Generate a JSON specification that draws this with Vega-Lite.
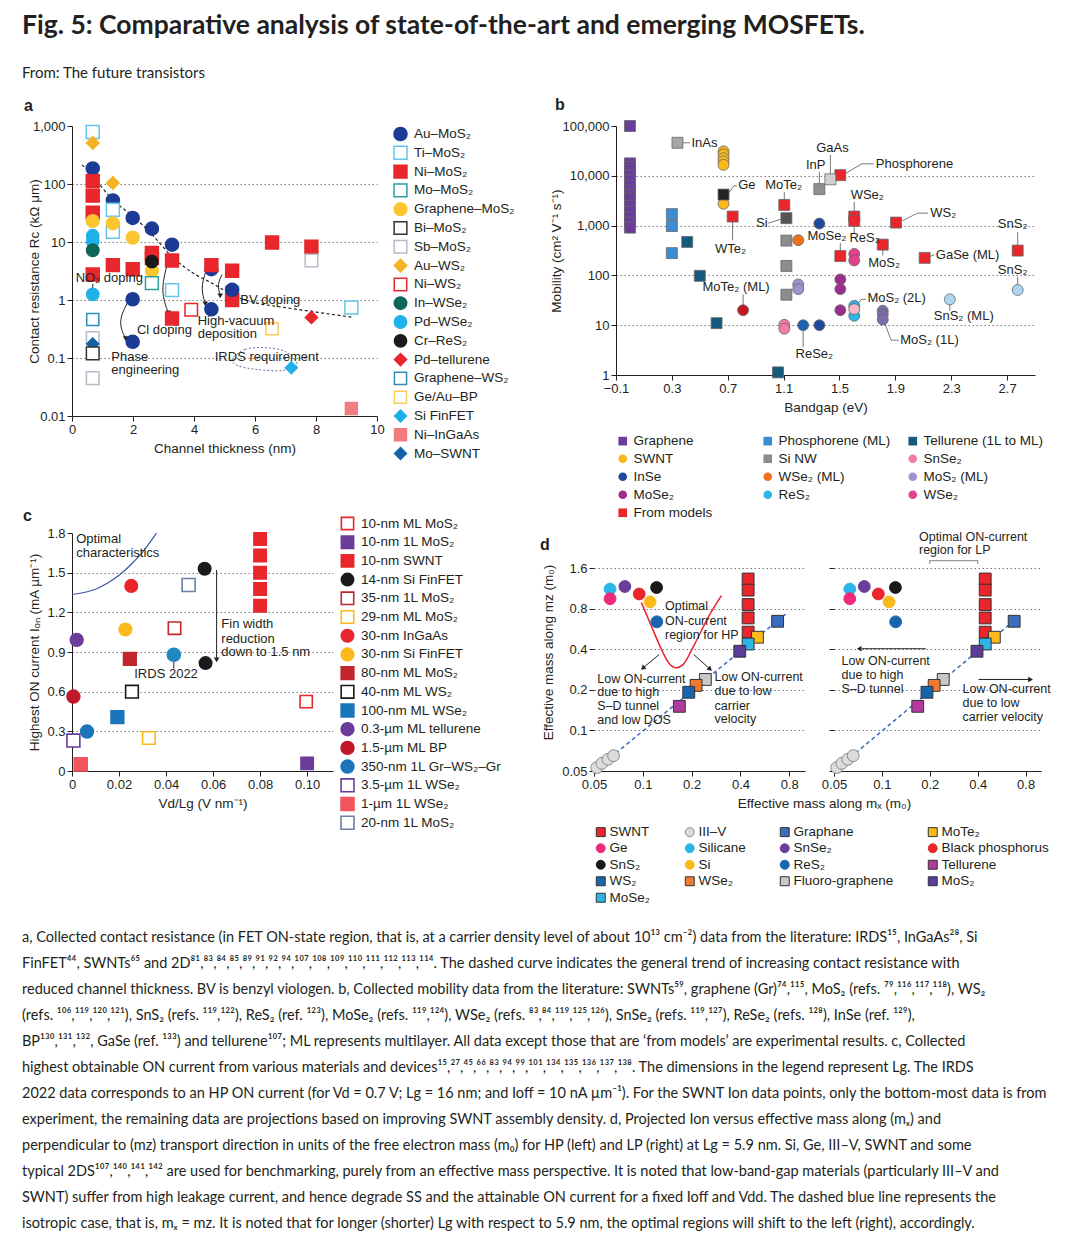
{
"$schema":"https://vega.github.io/schema/vega-lite/v6.json",
"background":"white",
"padding":{"left":22,"top":13,"right":4,"bottom":4},
"title":{"text":"Fig. 5: Comparative analysis of state-of-the-art and emerging MOSFETs.","subtitle":"From: The future transistors","anchor":"start","frame":"bounds","font":"Lato","fontSize":26.5,"fontWeight":"bold","color":"#231f20","subtitleFont":"Lato","subtitleFontSize":15,"subtitleColor":"#231f20","subtitlePadding":26,"offset":16},
"spacing":-12,
"resolve":{"scale":{"fill":"independent","stroke":"independent","shape":"independent","size":"independent"},"legend":{"fill":"independent","stroke":"independent","shape":"independent","size":"independent"}},
"datasets":{
"a_pts":[
{"t":0.68,"r":185,"m":"Au–MoS₂"},{"t":1.34,"r":52,"m":"Au–MoS₂"},{"t":1.99,"r":26,"m":"Au–MoS₂"},{"t":2.62,"r":17,"m":"Au–MoS₂"},{"t":3.28,"r":9.0,"m":"Au–MoS₂"},{"t":4.57,"r":3.4,"m":"Au–MoS₂"},{"t":1.99,"r":1.03,"m":"Au–MoS₂"},{"t":1.99,"r":0.19,"m":"Au–MoS₂"},{"t":4.57,"r":0.69,"m":"Au–MoS₂"},
{"t":0.68,"r":790,"m":"Ti–MoS₂"},{"t":1.34,"r":36,"m":"Ti–MoS₂"},{"t":1.34,"r":15,"m":"Ti–MoS₂"},{"t":3.28,"r":1.48,"m":"Ti–MoS₂"},{"t":5.25,"r":1.35,"m":"Ti–MoS₂"},{"t":9.16,"r":0.74,"m":"Ti–MoS₂"},
{"t":0.68,"r":510,"m":"Au–WS₂"},{"t":1.34,"r":104,"m":"Au–WS₂"},
{"t":0.68,"r":112,"m":"Ni–MoS₂"},{"t":0.68,"r":63,"m":"Ni–MoS₂"},{"t":0.68,"r":32,"m":"Ni–MoS₂"},{"t":0.68,"r":2.75,"m":"Ni–MoS₂"},{"t":1.34,"r":4.0,"m":"Ni–MoS₂"},{"t":1.99,"r":3.4,"m":"Ni–MoS₂"},{"t":2.62,"r":6.5,"m":"Ni–MoS₂"},{"t":2.62,"r":5.3,"m":"Ni–MoS₂"},{"t":3.28,"r":4.8,"m":"Ni–MoS₂"},{"t":3.28,"r":0.48,"m":"Ni–MoS₂"},{"t":4.57,"r":4.0,"m":"Ni–MoS₂"},{"t":5.25,"r":3.2,"m":"Ni–MoS₂"},{"t":5.25,"r":1.0,"m":"Ni–MoS₂"},{"t":6.56,"r":9.8,"m":"Ni–MoS₂"},{"t":7.85,"r":8.3,"m":"Ni–MoS₂"},
{"t":5.25,"r":1.5,"m":"Au–MoS₂"},
{"t":0.68,"r":23,"m":"Graphene–MoS₂"},{"t":1.34,"r":21,"m":"Graphene–MoS₂"},{"t":1.99,"r":11.9,"m":"Graphene–MoS₂"},{"t":2.62,"r":3.2,"m":"Graphene–MoS₂"},
{"t":0.68,"r":12.8,"m":"Pd–WSe₂"},{"t":0.68,"r":10.2,"m":"Pd–WSe₂"},{"t":0.68,"r":1.25,"m":"Pd–WSe₂"},
{"t":0.68,"r":7.2,"m":"In–WSe₂"},
{"t":2.62,"r":4.6,"m":"Cr–ReS₂"},
{"t":2.62,"r":1.95,"m":"Mo–MoS₂"},
{"t":0.68,"r":0.46,"m":"Graphene–WS₂"},
{"t":0.68,"r":0.22,"m":"Sb–MoS₂"},{"t":0.68,"r":0.045,"m":"Sb–MoS₂"},{"t":7.85,"r":4.8,"m":"Sb–MoS₂"},
{"t":0.68,"r":0.175,"m":"Mo–SWNT"},
{"t":0.68,"r":0.12,"m":"Bi–MoS₂"},
{"t":3.91,"r":0.68,"m":"Ni–WS₂"},
{"t":7.19,"r":0.068,"m":"Si FinFET"},
{"t":6.56,"r":0.32,"m":"Ge/Au–BP"},
{"t":7.85,"r":0.5,"m":"Pd–tellurene"},
{"t":9.16,"r":0.0135,"m":"Ni–InGaAs"}],
"a_trend":[{"t":0.33,"r":214},{"t":0.68,"r":140},{"t":1.0,"r":85},{"t":1.34,"r":53},{"t":2.0,"r":28},{"t":2.62,"r":13.5},{"t":3.28,"r":5.6},{"t":3.93,"r":3.0},{"t":4.59,"r":1.95},{"t":5.36,"r":1.15},{"t":6.0,"r":0.9},{"t":7.0,"r":0.74},{"t":8.0,"r":0.62},{"t":9.24,"r":0.5}],
"a_ell":[{"t":5.25,"r":0.095,"o":0},{"t":5.68,"r":0.141,"o":1},{"t":6.34,"r":0.151,"o":2},{"t":6.99,"r":0.129,"o":3},{"t":7.38,"r":0.078,"o":4},{"t":6.89,"r":0.061,"o":5},{"t":6.12,"r":0.063,"o":6},{"t":5.46,"r":0.073,"o":7}],
"a_arr":[
{"id":"ph","t":1.82,"r":0.9,"o":0},{"id":"ph","t":1.5,"r":0.42,"o":1},{"id":"ph","t":1.76,"r":0.215,"o":2},
{"id":"cl","t":3.12,"r":4.1,"o":0},{"id":"cl","t":2.9,"r":1.4,"o":1},{"id":"cl","t":3.16,"r":0.6,"o":2},
{"id":"hv","t":4.37,"r":2.9,"o":0},{"id":"hv","t":4.22,"r":1.6,"o":1},{"id":"hv","t":4.37,"r":0.86,"o":2},
{"id":"bv","t":4.92,"r":2.75,"o":0},{"id":"bv","t":4.76,"r":1.85,"o":1},{"id":"bv","t":4.86,"r":1.18,"o":2},
{"id":"no","t":0.68,"r":1.9,"o":0},{"id":"no","t":0.68,"r":1.55,"o":1}],
"a_head":[{"t":1.76,"r":0.215},{"t":3.16,"r":0.6},{"t":4.37,"r":0.86},{"t":4.86,"r":1.18}],
"a_txt":[{"t":0.12,"r":2.4,"label":"NO₂ doping"},{"t":1.29,"r":0.104,"label":"Phase"},{"t":1.29,"r":0.061,"label":"engineering"},{"t":2.13,"r":0.3,"label":"Cl doping"},{"t":4.12,"r":0.44,"label":"High-vacuum"},{"t":4.12,"r":0.26,"label":"deposition"},{"t":5.52,"r":0.99,"label":"BV doping"},{"t":4.68,"r":0.104,"label":"IRDS requirement"}],
"b_pts":[
{"g":0.0,"mu":100000,"m":"Graphene"},{"g":0.0,"mu":17800,"m":"Graphene"},{"g":0.0,"mu":15100,"m":"Graphene"},{"g":0.0,"mu":13100,"m":"Graphene"},{"g":0.0,"mu":10200,"m":"Graphene"},{"g":0.0,"mu":8100,"m":"Graphene"},{"g":0.0,"mu":6500,"m":"Graphene"},{"g":0.0,"mu":5100,"m":"Graphene"},{"g":0.0,"mu":4100,"m":"Graphene"},{"g":0.0,"mu":3500,"m":"Graphene"},{"g":0.0,"mu":2500,"m":"Graphene"},{"g":0.0,"mu":1860,"m":"Graphene"},{"g":0.0,"mu":1450,"m":"Graphene"},{"g":0.0,"mu":1150,"m":"Graphene"},{"g":0.0,"mu":910,"m":"Graphene"},
{"g":0.34,"mu":46000,"m":"InAs"},
{"g":0.67,"mu":31000,"m":"SWNT"},{"g":0.67,"mu":27000,"m":"SWNT"},{"g":0.67,"mu":22500,"m":"SWNT"},{"g":0.67,"mu":19500,"m":"SWNT"},{"g":0.67,"mu":16600,"m":"SWNT"},{"g":0.67,"mu":2750,"m":"SWNT"},
{"g":0.67,"mu":4200,"m":"Ge"},
{"g":0.3,"mu":1700,"m":"Phosphorene (ML)"},{"g":0.3,"mu":980,"m":"Phosphorene (ML)"},{"g":0.3,"mu":280,"m":"Phosphorene (ML)"},
{"g":0.41,"mu":470,"m":"Tellurene (1L to ML)"},{"g":0.5,"mu":98,"m":"Tellurene (1L to ML)"},{"g":0.62,"mu":11,"m":"Tellurene (1L to ML)"},{"g":1.06,"mu":1.13,"m":"Tellurene (1L to ML)"},
{"g":0.81,"mu":20,"m":"MoTe₂ (ML)"},
{"g":0.735,"mu":1520,"m":"From models"},{"g":1.105,"mu":2600,"m":"From models"},{"g":1.506,"mu":10300,"m":"From models"},{"g":1.506,"mu":245,"m":"From models"},{"g":1.606,"mu":1520,"m":"From models"},{"g":1.606,"mu":1250,"m":"From models"},{"g":1.81,"mu":415,"m":"From models"},{"g":1.905,"mu":1150,"m":"From models"},{"g":2.11,"mu":225,"m":"From models"},{"g":2.776,"mu":315,"m":"From models"},
{"g":1.12,"mu":1410,"m":"Si"},
{"g":1.12,"mu":500,"m":"Si NW"},{"g":1.12,"mu":155,"m":"Si NW"},{"g":1.12,"mu":41,"m":"Si NW"},
{"g":1.105,"mu":10.2,"m":"SnSe₂"},{"g":1.105,"mu":8.5,"m":"SnSe₂"},
{"g":1.205,"mu":510,"m":"WSe₂ (ML)"},
{"g":1.205,"mu":66,"m":"MoS₂ (ML)"},{"g":1.205,"mu":53,"m":"MoS₂ (ML)"},
{"g":1.24,"mu":10,"m":"ReSe₂"},
{"g":1.356,"mu":1100,"m":"InSe"},{"g":1.356,"mu":10,"m":"InSe"},
{"g":1.356,"mu":5400,"m":"InP"},
{"g":1.435,"mu":8500,"m":"GaAs"},
{"g":1.506,"mu":83,"m":"MoSe₂"},{"g":1.506,"mu":53,"m":"MoSe₂"},{"g":1.506,"mu":20,"m":"MoSe₂"},
{"g":1.606,"mu":270,"m":"WSe₂"},{"g":1.606,"mu":200,"m":"WSe₂"},
{"g":1.606,"mu":24.5,"m":"ReS₂"},{"g":1.606,"mu":15.5,"m":"ReS₂"},
{"g":1.606,"mu":21,"m":"MoS₂ (2L)"},
{"g":1.81,"mu":19.5,"m":"MoS₂ (1L)"},{"g":1.81,"mu":16.5,"m":"MoS₂ (1L)"},{"g":1.81,"mu":13,"m":"MoS₂ (1L)"},
{"g":2.29,"mu":33,"m":"SnS₂"},{"g":2.776,"mu":51,"m":"SnS₂"}],
"b_lines":[
{"id":"inas","g":0.375,"mu":46000,"o":0},{"id":"inas","g":0.43,"mu":46000,"o":1},
{"id":"ge","g":0.7,"mu":4300,"o":0},{"id":"ge","g":0.745,"mu":6300,"o":1},{"id":"ge","g":0.765,"mu":6300,"o":2},
{"id":"mote","g":1.105,"mu":4700,"o":0},{"id":"mote","g":1.105,"mu":3000,"o":1},
{"id":"si","g":0.99,"mu":1120,"o":0},{"id":"si","g":1.08,"mu":1340,"o":1},
{"id":"wte","g":0.735,"mu":1260,"o":0},{"id":"wte","g":0.735,"mu":510,"o":1},
{"id":"inp","g":1.356,"mu":12000,"o":0},{"id":"inp","g":1.356,"mu":6900,"o":1},
{"id":"gaas","g":1.435,"mu":26500,"o":0},{"id":"gaas","g":1.435,"mu":10200,"o":1},
{"id":"phos","g":1.54,"mu":11000,"o":0},{"id":"phos","g":1.66,"mu":17400,"o":1},{"id":"phos","g":1.745,"mu":17400,"o":2},
{"id":"wse","g":1.606,"mu":3000,"o":0},{"id":"wse","g":1.606,"mu":1860,"o":1},
{"id":"ws","g":1.95,"mu":1250,"o":0},{"id":"ws","g":2.06,"mu":1780,"o":1},{"id":"ws","g":2.135,"mu":1780,"o":2},
{"id":"sns1","g":2.776,"mu":740,"o":0},{"id":"sns1","g":2.776,"mu":385,"o":1},
{"id":"gase","g":2.14,"mu":235,"o":0},{"id":"gase","g":2.18,"mu":260,"o":1},
{"id":"mose","g":1.506,"mu":450,"o":0},{"id":"mose","g":1.506,"mu":315,"o":1},
{"id":"res","g":1.606,"mu":980,"o":0},{"id":"res","g":1.606,"mu":690,"o":1},
{"id":"mos","g":1.81,"mu":330,"o":0},{"id":"mos","g":1.81,"mu":250,"o":1},
{"id":"sns2","g":2.776,"mu":94,"o":0},{"id":"sns2","g":2.776,"mu":63,"o":1},
{"id":"mos2l","g":1.625,"mu":25,"o":0},{"id":"mos2l","g":1.655,"mu":33,"o":1},{"id":"mos2l","g":1.69,"mu":33,"o":2},
{"id":"snsml","g":2.29,"mu":27,"o":0},{"id":"snsml","g":2.29,"mu":19.5,"o":1},
{"id":"mos1l","g":1.82,"mu":12,"o":0},{"id":"mos1l","g":1.87,"mu":5.0,"o":1},{"id":"mos1l","g":1.925,"mu":5.0,"o":2},
{"id":"moteml","g":0.81,"mu":41.5,"o":0},{"id":"moteml","g":0.81,"mu":24.8,"o":1},
{"id":"rese","g":1.24,"mu":7.6,"o":0},{"id":"rese","g":1.24,"mu":3.6,"o":1}],
"b_tc":[{"g":1.1,"mu":6600,"label":"MoTe₂"},{"g":1.33,"mu":16600,"label":"InP"},{"g":1.45,"mu":36000,"label":"GaAs"},{"g":0.72,"mu":340,"label":"WTe₂"},{"g":1.41,"mu":620,"label":"MoSe₂"},{"g":1.68,"mu":575,"label":"ReS₂"},{"g":1.82,"mu":176,"label":"MoS₂"},{"g":2.74,"mu":1100,"label":"SnS₂"},{"g":2.74,"mu":126,"label":"SnS₂"},{"g":2.39,"mu":15,"label":"SnS₂ (ML)"},{"g":0.76,"mu":59,"label":"MoTe₂ (ML)"},{"g":1.32,"mu":2.6,"label":"ReSe₂"}],
"b_tl":[{"g":0.44,"mu":46000,"label":"InAs"},{"g":0.775,"mu":6600,"label":"Ge"},{"g":1.76,"mu":17400,"label":"Phosphorene"},{"g":1.58,"mu":4100,"label":"WSe₂"},{"g":2.15,"mu":1780,"label":"WS₂"},{"g":2.19,"mu":260,"label":"GaSe (ML)"},{"g":1.7,"mu":35,"label":"MoS₂ (2L)"},{"g":1.935,"mu":5.0,"label":"MoS₂ (1L)"}],
"b_tr":[{"g":0.986,"mu":1120,"label":"Si"}],
"c_pts":[
{"v":0.0996,"ion":0.525,"m":"10-nm ML MoS₂"},{"v":0.1,"ion":0.058,"m":"10-nm 1L MoS₂"},
{"v":0.08,"ion":1.755,"m":"10-nm SWNT"},{"v":0.08,"ion":1.63,"m":"10-nm SWNT"},{"v":0.08,"ion":1.5,"m":"10-nm SWNT"},{"v":0.08,"ion":1.376,"m":"10-nm SWNT"},{"v":0.08,"ion":1.25,"m":"10-nm SWNT"},
{"v":0.0564,"ion":1.53,"m":"14-nm Si FinFET"},{"v":0.0568,"ion":0.816,"m":"14-nm Si FinFET"},
{"v":0.0436,"ion":1.08,"m":"35-nm 1L MoS₂"},
{"v":0.0327,"ion":0.25,"m":"29-nm ML MoS₂"},
{"v":0.0252,"ion":1.4,"m":"30-nm InGaAs"},
{"v":0.0227,"ion":1.07,"m":"30-nm Si FinFET"},
{"v":0.0246,"ion":0.848,"m":"80-nm ML MoS₂"},
{"v":0.0255,"ion":0.6,"m":"40-nm ML WS₂"},
{"v":0.0193,"ion":0.407,"m":"100-nm ML WSe₂"},
{"v":0.002,"ion":0.992,"m":"0.3-µm ML tellurene"},
{"v":0.0006,"ion":0.563,"m":"1.5-µm ML BP"},
{"v":0.0064,"ion":0.298,"m":"350-nm 1L Gr–WS₂–Gr"},
{"v":0.0006,"ion":0.23,"m":"3.5-µm 1L WSe₂"},
{"v":0.0037,"ion":0.05,"m":"1-µm 1L WSe₂"},
{"v":0.0496,"ion":1.407,"m":"20-nm 1L MoS₂"},
{"v":0.0433,"ion":0.879,"m":"IRDS 2022"}],
"c_curve":[{"v":0,"ion":1.335},{"v":0.005,"ion":1.35},{"v":0.01,"ion":1.375},{"v":0.015,"ion":1.42},{"v":0.02,"ion":1.48},{"v":0.025,"ion":1.56},{"v":0.03,"ion":1.655},{"v":0.034,"ion":1.75},{"v":0.0375,"ion":1.84}],
"c_lines":[{"id":"fin","v":0.0615,"ion":1.52,"o":0},{"id":"fin","v":0.0615,"ion":0.85,"o":1},{"id":"irds","v":0.0433,"ion":0.845,"o":0},{"id":"irds","v":0.0433,"ion":0.775,"o":1}],
"c_head":[{"v":0.0615,"ion":0.84}],
"c_tl":[{"v":0.0018,"ion":1.757,"label":"Optimal"},{"v":0.0018,"ion":1.65,"label":"characteristics"},{"v":0.0635,"ion":1.11,"label":"Fin width"},{"v":0.0635,"ion":1.0,"label":"reduction"},{"v":0.0635,"ion":0.9,"label":"down to 1.5 nm"}],
"c_tc":[{"v":0.04,"ion":0.732,"label":"IRDS 2022"}],
"d_pts":[
{"mx":0.052,"mz":0.053,"m":"III–V"},{"mx":0.056,"mz":0.057,"m":"III–V"},{"mx":0.061,"mz":0.061,"m":"III–V"},{"mx":0.066,"mz":0.065,"m":"III–V"},
{"mx":0.0628,"mz":1.12,"m":"Silicane"},{"mx":0.0628,"mz":0.95,"m":"Ge"},{"mx":0.0775,"mz":1.17,"m":"SnSe₂"},{"mx":0.095,"mz":1.03,"m":"Black phosphorus"},{"mx":0.111,"mz":0.9,"m":"Si"},{"mx":0.1216,"mz":1.15,"m":"SnS₂"},{"mx":0.122,"mz":0.64,"m":"ReS₂"},
{"mx":0.446,"mz":1.33,"m":"SWNT"},{"mx":0.446,"mz":1.1,"m":"SWNT"},{"mx":0.446,"mz":0.86,"m":"SWNT"},{"mx":0.446,"mz":0.684,"m":"SWNT"},{"mx":0.446,"mz":0.536,"m":"SWNT"},
{"mx":0.678,"mz":0.646,"m":"Graphane"},{"mx":0.509,"mz":0.492,"m":"MoTe₂"},{"mx":0.446,"mz":0.438,"m":"MoSe₂"},{"mx":0.396,"mz":0.387,"m":"MoS₂"},{"mx":0.243,"mz":0.239,"m":"Fluoro-graphene"},{"mx":0.213,"mz":0.216,"m":"WSe₂"},{"mx":0.192,"mz":0.192,"m":"WS₂"},{"mx":0.168,"mz":0.151,"m":"Tellurene"}],
"d_diag":[{"mx":0.05,"mz":0.05},{"mx":0.76,"mz":0.73}],
"dl_curve":[{"mx":0.098,"mz":0.89},{"mx":0.112,"mz":0.61},{"mx":0.129,"mz":0.41},{"mx":0.146,"mz":0.312},{"mx":0.16,"mz":0.291},{"mx":0.177,"mz":0.308},{"mx":0.208,"mz":0.434},{"mx":0.252,"mz":0.684},{"mx":0.305,"mz":1.0}],
"dl_arr":[{"id":"l1","mx":0.126,"mz":0.366,"o":0},{"id":"l1","mx":0.101,"mz":0.293,"o":1},{"id":"l2","mx":0.206,"mz":0.366,"o":0},{"id":"l2","mx":0.258,"mz":0.287,"o":1}],
"dl_h1":[{"mx":0.1,"mz":0.29}],
"dl_h2":[{"mx":0.26,"mz":0.285}],
"dl_txt":[{"mx":0.137,"mz":0.834,"label":"Optimal"},{"mx":0.137,"mz":0.653,"label":"ON-current"},{"mx":0.137,"mz":0.514,"label":"region for HP"},{"mx":0.0524,"mz":0.241,"label":"Low ON-current"},{"mx":0.0524,"mz":0.192,"label":"due to high"},{"mx":0.0524,"mz":0.151,"label":"S–D tunnel"},{"mx":0.0524,"mz":0.119,"label":"and low DOS"},{"mx":0.277,"mz":0.248,"label":"Low ON-current"},{"mx":0.277,"mz":0.197,"label":"due to low"},{"mx":0.277,"mz":0.153,"label":"carrier"},{"mx":0.277,"mz":0.121,"label":"velocity"}],
"dr_red":[{"mx":0.2},{"mx":0.4}],
"dr_br":[{"mx":0.2,"mz":1.72,"o":0},{"mx":0.2,"mz":1.82,"o":1},{"mx":0.4,"mz":1.82,"o":2},{"mx":0.4,"mz":1.72,"o":3}],
"dr_arr":[{"id":"r1","mx":0.189,"mz":0.404,"o":0},{"id":"r1","mx":0.075,"mz":0.404,"o":1},{"id":"r2","mx":0.405,"mz":0.239,"o":0},{"id":"r2","mx":0.84,"mz":0.239,"o":1}],
"dr_hl":[{"mx":0.072,"mz":0.404}],
"dr_hr":[{"mx":0.86,"mz":0.239}],
"dr_txt":[{"mx":0.171,"mz":2.74,"label":"Optimal ON-current"},{"mx":0.171,"mz":2.19,"label":"region for LP"},{"mx":0.0558,"mz":0.327,"label":"Low ON-current"},{"mx":0.0558,"mz":0.257,"label":"due to high"},{"mx":0.0558,"mz":0.204,"label":"S–D tunnel"},{"mx":0.321,"mz":0.204,"label":"Low ON-current"},{"mx":0.321,"mz":0.161,"label":"due to low"},{"mx":0.321,"mz":0.126,"label":"carrier velocity"}]
},
"vconcat":[
{"hconcat":[
 {"width":305,"height":290,
  "title":{"text":"a","anchor":"start","frame":"group","dx":-48,"offset":6,"fontSize":16,"fontWeight":"bold"},
  "encoding":{
   "x":{"field":"t","type":"quantitative","scale":{"domain":[0,10],"nice":false,"zero":false},"axis":{"values":[0,2,4,6,8,10],"title":"Channel thickness (nm)","titlePadding":5}},
   "y":{"field":"r","type":"quantitative","scale":{"type":"log","domain":[0.01,1000],"nice":false},"axis":{"values":[0.01,0.1,1,10,100,1000],"format":",~g","title":"Contact resistance Rc (kΩ μm)","grid":true,"gridOpacity":{"condition":{"test":"datum.value > 500 || datum.value < 0.02","value":0},"value":1},"minExtent":28,"maxExtent":28,"titlePadding":3}}},
  "layer":[
   {"data":{"name":"a_trend"},"mark":{"type":"line","color":"#231f20","strokeWidth":1.2,"strokeDash":[3,2.5],"interpolate":"monotone"}},
   {"data":{"name":"a_ell"},"mark":{"type":"line","color":"#6070b0","strokeWidth":1,"strokeDash":[2,2],"interpolate":"cardinal-closed"},"encoding":{"order":{"field":"o"}}},
   {"data":{"name":"a_arr"},"mark":{"type":"line","color":"#231f20","strokeWidth":1,"interpolate":"basis"},"encoding":{"detail":{"field":"id"},"order":{"field":"o"}}},
   {"data":{"name":"a_head"},"mark":{"type":"point","shape":"triangle-down","filled":true,"size":30,"color":"#231f20","opacity":1}},
   {"data":{"name":"a_pts"},"mark":{"type":"point","filled":true,"opacity":1,"strokeWidth":1.5},
    "encoding":{
     "fill":{"field":"m","type":"nominal","scale":{"domain":["Au–MoS₂","Ti–MoS₂","Ni–MoS₂","Mo–MoS₂","Graphene–MoS₂","Bi–MoS₂","Sb–MoS₂","Au–WS₂","Ni–WS₂","In–WSe₂","Pd–WSe₂","Cr–ReS₂","Pd–tellurene","Graphene–WS₂","Ge/Au–BP","Si FinFET","Ni–InGaAs","Mo–SWNT"],"range":["#1b3b95","#ffffff","#e8262b","#ffffff","#fdc52e","#ffffff","#ffffff","#f5b324","#ffffff","#0d6656","#1fb1e7","#1a1a1a","#e8262b","#ffffff","#ffffff","#1fb1e7","#f27b80","#1561aa"]},"legend":{"title":null,"orient":"right","offset":16,"rowPadding":2.8,"clipHeight":16,"labelOffset":6,"symbolStrokeWidth":1.5}},
     "stroke":{"field":"m","type":"nominal","scale":{"domain":["Au–MoS₂","Ti–MoS₂","Ni–MoS₂","Mo–MoS₂","Graphene–MoS₂","Bi–MoS₂","Sb–MoS₂","Au–WS₂","Ni–WS₂","In–WSe₂","Pd–WSe₂","Cr–ReS₂","Pd–tellurene","Graphene–WS₂","Ge/Au–BP","Si FinFET","Ni–InGaAs","Mo–SWNT"],"range":["#1b3b95","#62c6ea","#e8262b","#2e9e9a","#fdc52e","#333333","#b4bccb","#f5b324","#e8262b","#0d6656","#1fb1e7","#1a1a1a","#e8262b","#2d8db3","#f8cf5e","#1fb1e7","#f27b80","#1561aa"]},"legend":{"title":null,"orient":"right","offset":16,"rowPadding":2.8,"clipHeight":16,"labelOffset":6,"symbolStrokeWidth":1.5}},
     "shape":{"field":"m","type":"nominal","scale":{"domain":["Au–MoS₂","Ti–MoS₂","Ni–MoS₂","Mo–MoS₂","Graphene–MoS₂","Bi–MoS₂","Sb–MoS₂","Au–WS₂","Ni–WS₂","In–WSe₂","Pd–WSe₂","Cr–ReS₂","Pd–tellurene","Graphene–WS₂","Ge/Au–BP","Si FinFET","Ni–InGaAs","Mo–SWNT"],"range":["circle","square","square","square","circle","square","square","diamond","square","circle","circle","circle","diamond","square","square","diamond","square","diamond"]},"legend":{"title":null,"orient":"right","offset":16,"rowPadding":2.8,"clipHeight":16,"labelOffset":6,"symbolStrokeWidth":1.5}},
     "size":{"field":"m","type":"nominal","scale":{"domain":["Au–MoS₂","Ti–MoS₂","Ni–MoS₂","Mo–MoS₂","Graphene–MoS₂","Bi–MoS₂","Sb–MoS₂","Au–WS₂","Ni–WS₂","In–WSe₂","Pd–WSe₂","Cr–ReS₂","Pd–tellurene","Graphene–WS₂","Ge/Au–BP","Si FinFET","Ni–InGaAs","Mo–SWNT"],"range":[170,140,160,140,170,140,140,130,50,170,170,170,130,140,140,130,160,130]},"legend":{"title":null,"orient":"right","offset":16,"rowPadding":2.8,"clipHeight":16,"labelOffset":6,"symbolStrokeWidth":1.5}}}},
   {"data":{"name":"a_txt"},"mark":{"type":"text","align":"left","baseline":"middle","fontSize":13},"encoding":{"text":{"field":"label"}}}
  ]},
 {"width":419,"height":249,
  "title":{"text":"b","anchor":"start","frame":"group","dx":-61,"offset":6,"fontSize":16,"fontWeight":"bold"},
  "encoding":{
   "x":{"field":"g","type":"quantitative","scale":{"domain":[-0.1,2.9],"nice":false,"zero":false},"axis":{"values":[-0.1,0.3,0.7,1.1,1.5,1.9,2.3,2.7],"format":".1f","title":"Bandgap (eV)","titlePadding":5}},
   "y":{"field":"mu","type":"quantitative","scale":{"type":"log","domain":[1,100000],"nice":false},"axis":{"values":[1,10,100,1000,10000,100000],"format":",~g","title":"Mobility (cm² V⁻¹ s⁻¹)","grid":true,"gridOpacity":{"condition":{"test":"datum.value < 2 || datum.value > 50000","value":0},"value":1},"minExtent":50,"maxExtent":50,"titlePadding":3}}},
  "layer":[
   {"data":{"name":"b_lines"},"mark":{"type":"line","color":"#555555","strokeWidth":0.8},"encoding":{"detail":{"field":"id"},"order":{"field":"o"}}},
   {"data":{"name":"b_pts"},"mark":{"type":"point","filled":true,"opacity":1,"size":120,"stroke":"#666666","strokeWidth":0.8},
    "encoding":{
     "fill":{"field":"m","type":"nominal","scale":{"domain":["Graphene","Phosphorene (ML)","Tellurene (1L to ML)","SWNT","Si NW","SnSe₂","InSe","WSe₂ (ML)","MoS₂ (ML)","MoSe₂","ReS₂","WSe₂","From models","InAs","Ge","Si","InP","GaAs","MoTe₂ (ML)","ReSe₂","MoS₂ (2L)","MoS₂ (1L)","SnS₂"],"range":["#6a3d9a","#3b8ed5","#155a7c","#fbb91c","#8c8c8c","#f27ca8","#1e4a9b","#f07020","#a091cc","#9b2d8e","#2bb5e8","#e2418d","#e8262b","#a6a6a6","#222222","#555555","#8f8f8f","#d0d0d0","#c3161f","#1a63b3","#f7b9c6","#7d6cab","#acd5f1"]},"legend":{"title":null,"orient":"bottom","direction":"horizontal","columns":3,"gridAlign":"all","columnPadding":7,"rowPadding":3,"symbolSize":75,"offset":20,"symbolStrokeColor":"#666666","symbolStrokeWidth":0.8,"labelOffset":4,"values":["Graphene","Phosphorene (ML)","Tellurene (1L to ML)","SWNT","Si NW","SnSe₂","InSe","WSe₂ (ML)","MoS₂ (ML)","MoSe₂","ReS₂","WSe₂","From models"]}},
     "shape":{"field":"m","type":"nominal","scale":{"domain":["Graphene","Phosphorene (ML)","Tellurene (1L to ML)","SWNT","Si NW","SnSe₂","InSe","WSe₂ (ML)","MoS₂ (ML)","MoSe₂","ReS₂","WSe₂","From models","InAs","Ge","Si","InP","GaAs","MoTe₂ (ML)","ReSe₂","MoS₂ (2L)","MoS₂ (1L)","SnS₂"],"range":["square","square","square","circle","square","circle","circle","circle","circle","circle","circle","circle","square","square","square","square","square","square","circle","circle","circle","circle","circle"]},"legend":{"title":null,"orient":"bottom","direction":"horizontal","columns":3,"gridAlign":"all","columnPadding":7,"rowPadding":3,"symbolSize":75,"offset":20,"symbolStrokeColor":"#666666","symbolStrokeWidth":0.8,"labelOffset":4,"values":["Graphene","Phosphorene (ML)","Tellurene (1L to ML)","SWNT","Si NW","SnSe₂","InSe","WSe₂ (ML)","MoS₂ (ML)","MoSe₂","ReS₂","WSe₂","From models"]}}}},
   {"data":{"name":"b_tc"},"mark":{"type":"text","align":"center","baseline":"middle","fontSize":13},"encoding":{"text":{"field":"label"}}},
   {"data":{"name":"b_tl"},"mark":{"type":"text","align":"left","baseline":"middle","fontSize":13},"encoding":{"text":{"field":"label"}}},
   {"data":{"name":"b_tr"},"mark":{"type":"text","align":"right","baseline":"middle","fontSize":13},"encoding":{"text":{"field":"label"}}}
  ]}
 ],
 "spacing":34,
 "resolve":{"scale":{"fill":"independent","stroke":"independent","shape":"independent","size":"independent"},"legend":{"fill":"independent","stroke":"independent","shape":"independent","size":"independent"}}},
{"title":{"text":[
"a, Collected contact resistance (in FET ON-state region, that is, at a carrier density level of about 10¹³ cm⁻²) data from the literature: IRDS¹⁵, InGaAs²⁸, Si",
"FinFET⁴⁴, SWNTs⁶⁵ and 2D⁸¹,⁸³,⁸⁴,⁸⁵,⁸⁹,⁹¹,⁹²,⁹⁴,¹⁰⁷,¹⁰⁸,¹⁰⁹,¹¹⁰,¹¹¹,¹¹²,¹¹³,¹¹⁴. The dashed curve indicates the general trend of increasing contact resistance with",
"reduced channel thickness. BV is benzyl viologen. b, Collected mobility data from the literature: SWNTs⁵⁹, graphene (Gr)⁷⁴,¹¹⁵, MoS₂ (refs. ⁷⁹,¹¹⁶,¹¹⁷,¹¹⁸), WS₂",
"(refs. ¹⁰⁶,¹¹⁹,¹²⁰,¹²¹), SnS₂ (refs. ¹¹⁹,¹²²), ReS₂ (ref. ¹²³), MoSe₂ (refs. ¹¹⁹,¹²⁴), WSe₂ (refs. ⁸³,⁸⁴,¹¹⁹,¹²⁵,¹²⁶), SnSe₂ (refs. ¹¹⁹,¹²⁷), ReSe₂ (refs. ¹²⁸), InSe (ref. ¹²⁹),",
"BP¹³⁰,¹³¹,¹³², GaSe (ref. ¹³³) and tellurene¹⁰⁷; ML represents multilayer. All data except those that are ‘from models’ are experimental results. c, Collected",
"highest obtainable ON current from various materials and devices¹⁵,²⁷,⁴⁵,⁶⁶,⁸³,⁹⁴,⁹⁹,¹⁰¹,¹³⁴,¹³⁵,¹³⁶,¹³⁷,¹³⁸. The dimensions in the legend represent Lg. The IRDS",
"2022 data corresponds to an HP ON current (for Vd = 0.7 V; Lg = 16 nm; and Ioff = 10 nA µm⁻¹). For the SWNT Ion data points, only the bottom-most data is from",
"experiment, the remaining data are projections based on improving SWNT assembly density. d, Projected Ion versus effective mass along (mₓ) and",
"perpendicular to (mz) transport direction in units of the free electron mass (m₀) for HP (left) and LP (right) at Lg = 5.9 nm. Si, Ge, III–V, SWNT and some",
"typical 2DS¹⁰⁷,¹⁴⁰,¹⁴¹,¹⁴² are used for benchmarking, purely from an effective mass perspective. It is noted that low-band-gap materials (particularly III–V and",
"SWNT) suffer from high leakage current, and hence degrade SS and the attainable ON current for a fixed Ioff and Vdd. The dashed blue line represents the",
"isotropic case, that is, mₓ = mz. It is noted that for longer (shorter) Lg with respect to 5.9 nm, the optimal regions will shift to the left (right), accordingly."],
 "orient":"bottom","anchor":"start","frame":"bounds","font":"Lato","fontSize":14.5,"fontWeight":"normal","color":"#231f20","lineHeight":26,"offset":26,"dx":-1,"align":"left"},
 "hconcat":[
 {"width":261,"height":238,
  "title":{"text":"c","anchor":"start","frame":"group","dx":-49,"dy":13,"fontSize":16,"fontWeight":"bold"},
  "encoding":{
   "x":{"field":"v","type":"quantitative","scale":{"domain":[0,0.111],"nice":false,"zero":false},"axis":{"values":[0,0.02,0.04,0.06,0.08,0.1],"labelExpr":"datum.value == 0 ? '0' : format(datum.value, '.2f')","title":"Vd/Lg (V nm⁻¹)","titlePadding":5}},
   "y":{"field":"ion","type":"quantitative","scale":{"domain":[0,1.8],"nice":false},"axis":{"values":[0,0.3,0.6,0.9,1.2,1.5,1.8],"labelExpr":"datum.value == 0 ? '0' : format(datum.value, '.1f')","title":"Highest ON current Iₒₙ (mA µm⁻¹)","grid":true,"gridOpacity":{"condition":{"test":"datum.value < 0.01 || datum.value > 1.75","value":0},"value":1},"minExtent":28,"maxExtent":28,"titlePadding":3}}},
  "layer":[
   {"data":{"name":"c_curve"},"mark":{"type":"line","color":"#3a55a4","strokeWidth":1.2,"interpolate":"monotone","clip":true}},
   {"data":{"name":"c_lines"},"mark":{"type":"line","color":"#231f20","strokeWidth":1},"encoding":{"detail":{"field":"id"},"order":{"field":"o"}}},
   {"data":{"name":"c_head"},"mark":{"type":"point","shape":"triangle-down","filled":true,"size":30,"color":"#231f20","opacity":1}},
   {"data":{"name":"c_pts"},"mark":{"type":"point","filled":true,"opacity":1,"strokeWidth":1.6},
    "encoding":{
     "fill":{"field":"m","type":"nominal","scale":{"domain":["10-nm ML MoS₂","10-nm 1L MoS₂","10-nm SWNT","14-nm Si FinFET","35-nm 1L MoS₂","29-nm ML MoS₂","30-nm InGaAs","30-nm Si FinFET","80-nm ML MoS₂","40-nm ML WS₂","100-nm ML WSe₂","0.3-µm ML tellurene","1.5-µm ML BP","350-nm 1L Gr–WS₂–Gr","3.5-µm 1L WSe₂","1-µm 1L WSe₂","20-nm 1L MoS₂","IRDS 2022"],"range":["#ffffff","#6a3d9a","#e8262b","#1a1a1a","#ffffff","#ffffff","#e8262b","#fbb91c","#c1272d","#ffffff","#1b75bb","#6a3d9a","#c0182b","#1b75bb","#ffffff","#f0565b","#ffffff","#2189c1"]},"legend":{"title":null,"orient":"none","legendX":268,"legendY":-18,"rowPadding":1.7,"clipHeight":17,"labelOffset":6,"symbolStrokeWidth":1.6,"values":["10-nm ML MoS₂","10-nm 1L MoS₂","10-nm SWNT","14-nm Si FinFET","35-nm 1L MoS₂","29-nm ML MoS₂","30-nm InGaAs","30-nm Si FinFET","80-nm ML MoS₂","40-nm ML WS₂","100-nm ML WSe₂","0.3-µm ML tellurene","1.5-µm ML BP","350-nm 1L Gr–WS₂–Gr","3.5-µm 1L WSe₂","1-µm 1L WSe₂","20-nm 1L MoS₂"]}},
     "stroke":{"field":"m","type":"nominal","scale":{"domain":["10-nm ML MoS₂","10-nm 1L MoS₂","10-nm SWNT","14-nm Si FinFET","35-nm 1L MoS₂","29-nm ML MoS₂","30-nm InGaAs","30-nm Si FinFET","80-nm ML MoS₂","40-nm ML WS₂","100-nm ML WSe₂","0.3-µm ML tellurene","1.5-µm ML BP","350-nm 1L Gr–WS₂–Gr","3.5-µm 1L WSe₂","1-µm 1L WSe₂","20-nm 1L MoS₂","IRDS 2022"],"range":["#e8262b","#6a3d9a","#e8262b","#1a1a1a","#c1272d","#fbb91c","#e8262b","#fbb91c","#c1272d","#1a1a1a","#1b75bb","#6a3d9a","#c0182b","#1b75bb","#6a3d9a","#f0565b","#6a7fa3","#2189c1"]},"legend":{"title":null,"orient":"none","legendX":268,"legendY":-18,"rowPadding":1.7,"clipHeight":17,"labelOffset":6,"symbolStrokeWidth":1.6,"values":["10-nm ML MoS₂","10-nm 1L MoS₂","10-nm SWNT","14-nm Si FinFET","35-nm 1L MoS₂","29-nm ML MoS₂","30-nm InGaAs","30-nm Si FinFET","80-nm ML MoS₂","40-nm ML WS₂","100-nm ML WSe₂","0.3-µm ML tellurene","1.5-µm ML BP","350-nm 1L Gr–WS₂–Gr","3.5-µm 1L WSe₂","1-µm 1L WSe₂","20-nm 1L MoS₂"]}},
     "shape":{"field":"m","type":"nominal","scale":{"domain":["10-nm ML MoS₂","10-nm 1L MoS₂","10-nm SWNT","14-nm Si FinFET","35-nm 1L MoS₂","29-nm ML MoS₂","30-nm InGaAs","30-nm Si FinFET","80-nm ML MoS₂","40-nm ML WS₂","100-nm ML WSe₂","0.3-µm ML tellurene","1.5-µm ML BP","350-nm 1L Gr–WS₂–Gr","3.5-µm 1L WSe₂","1-µm 1L WSe₂","20-nm 1L MoS₂","IRDS 2022"],"range":["square","square","square","circle","square","square","circle","circle","square","square","square","circle","circle","circle","square","square","square","circle"]},"legend":{"title":null,"orient":"none","legendX":268,"legendY":-18,"rowPadding":1.7,"clipHeight":17,"labelOffset":6,"symbolStrokeWidth":1.6,"values":["10-nm ML MoS₂","10-nm 1L MoS₂","10-nm SWNT","14-nm Si FinFET","35-nm 1L MoS₂","29-nm ML MoS₂","30-nm InGaAs","30-nm Si FinFET","80-nm ML MoS₂","40-nm ML WS₂","100-nm ML WSe₂","0.3-µm ML tellurene","1.5-µm ML BP","350-nm 1L Gr–WS₂–Gr","3.5-µm 1L WSe₂","1-µm 1L WSe₂","20-nm 1L MoS₂"]}},
     "size":{"field":"m","type":"nominal","scale":{"domain":["10-nm ML MoS₂","10-nm 1L MoS₂","10-nm SWNT","14-nm Si FinFET","35-nm 1L MoS₂","29-nm ML MoS₂","30-nm InGaAs","30-nm Si FinFET","80-nm ML MoS₂","40-nm ML WS₂","100-nm ML WSe₂","0.3-µm ML tellurene","1.5-µm ML BP","350-nm 1L Gr–WS₂–Gr","3.5-µm 1L WSe₂","1-µm 1L WSe₂","20-nm 1L MoS₂","IRDS 2022"],"range":[150,170,55,150,130,140,250,250,140,120,140,250,250,250,60,150,80,150]},"legend":{"title":null,"orient":"none","legendX":268,"legendY":-18,"rowPadding":1.7,"clipHeight":17,"labelOffset":6,"symbolStrokeWidth":1.6,"values":["10-nm ML MoS₂","10-nm 1L MoS₂","10-nm SWNT","14-nm Si FinFET","35-nm 1L MoS₂","29-nm ML MoS₂","30-nm InGaAs","30-nm Si FinFET","80-nm ML MoS₂","40-nm ML WS₂","100-nm ML WSe₂","0.3-µm ML tellurene","1.5-µm ML BP","350-nm 1L Gr–WS₂–Gr","3.5-µm 1L WSe₂","1-µm 1L WSe₂","20-nm 1L MoS₂"]}}}},
   {"data":{"name":"c_tl"},"mark":{"type":"text","align":"left","baseline":"middle","fontSize":13},"encoding":{"text":{"field":"label"}}},
   {"data":{"name":"c_tc"},"mark":{"type":"text","align":"center","baseline":"middle","fontSize":13},"encoding":{"text":{"field":"label"}}}
  ]},
 {"hconcat":[
  {"width":211,"height":238,
   "title":{"text":"d","anchor":"start","frame":"group","dx":-54,"dy":24,"fontSize":16,"fontWeight":"bold"},
   "encoding":{
    "x":{"field":"mx","type":"quantitative","scale":{"type":"log","domain":[0.05,1],"nice":false},"axis":{"values":[0.05,0.1,0.2,0.4,0.8],"format":"~g","title":"Effective mass along mₓ (m₀)","titleX":230,"titlePadding":5}},
    "y":{"field":"mz","type":"quantitative","scale":{"type":"log","domain":[0.05,2.92],"nice":false},"axis":{"values":[0.05,0.1,0.2,0.4,0.8,1.6],"format":"~g","title":"Effective mass along mz (m₀)","domain":false,"grid":true,"gridOpacity":{"condition":{"test":"datum.value < 0.07","value":0},"value":1},"minExtent":36,"maxExtent":36,"titlePadding":3}}},
   "layer":[
    {"data":{"values":[{}]},"mark":{"type":"rule","color":"#231f20","strokeWidth":1},"encoding":{"x":{"datum":0.05},"y":{"datum":0.05},"y2":{"datum":2.05}}},
    {"data":{"name":"d_diag"},"mark":{"type":"line","color":"#3a6dbf","strokeWidth":1.5,"strokeDash":[4,3]}},
    {"data":{"name":"dl_curve"},"mark":{"type":"line","color":"#e8262b","strokeWidth":1.5,"interpolate":"monotone"}},
    {"data":{"name":"dl_arr"},"mark":{"type":"line","color":"#231f20","strokeWidth":1},"encoding":{"detail":{"field":"id"},"order":{"field":"o"}}},
    {"data":{"name":"dl_h1"},"mark":{"type":"point","shape":"triangle-down","angle":50,"filled":true,"size":30,"color":"#231f20","opacity":1}},
    {"data":{"name":"dl_h2"},"mark":{"type":"point","shape":"triangle-down","angle":-50,"filled":true,"size":30,"color":"#231f20","opacity":1}},
    {"data":{"name":"d_pts"},"mark":{"type":"point","filled":true,"opacity":1,"size":140,"strokeWidth":1},
     "encoding":{
      "fill":{"field":"m","type":"nominal","scale":{"domain":["SWNT","III–V","Graphane","MoTe₂","Ge","Silicane","SnSe₂","Black phosphorus","SnS₂","Si","ReS₂","Tellurene","WS₂","WSe₂","Fluoro-graphene","MoS₂","MoSe₂"],"range":["#e8262b","#dcdcdc","#3a6dbf","#fbb91c","#ee2b7b","#2bb5e8","#6a3d9a","#e8262b","#1a1a1a","#fbb91c","#1766ad","#b23a9e","#1766ad","#f07b30","#c8c8c8","#5d3b9b","#2bb5e8"]},"legend":{"title":null,"orient":"bottom","direction":"horizontal","columns":4,"gridAlign":"each","columnPadding":32,"rowPadding":1.5,"symbolSize":80,"offset":15,"labelOffset":2,"symbolStrokeWidth":1}},
      "stroke":{"field":"m","type":"nominal","scale":{"domain":["SWNT","III–V","Graphane","MoTe₂","Ge","Silicane","SnSe₂","Black phosphorus","SnS₂","Si","ReS₂","Tellurene","WS₂","WSe₂","Fluoro-graphene","MoS₂","MoSe₂"],"range":["#333333","#8a8a8a","#333333","#333333","#ee2b7b","#2bb5e8","#6a3d9a","#e8262b","#1a1a1a","#fbb91c","#1766ad","#333333","#333333","#333333","#333333","#333333","#333333"]},"legend":{"title":null,"orient":"bottom","direction":"horizontal","columns":4,"gridAlign":"each","columnPadding":32,"rowPadding":1.5,"symbolSize":80,"offset":15,"labelOffset":2,"symbolStrokeWidth":1}},
      "shape":{"field":"m","type":"nominal","scale":{"domain":["SWNT","III–V","Graphane","MoTe₂","Ge","Silicane","SnSe₂","Black phosphorus","SnS₂","Si","ReS₂","Tellurene","WS₂","WSe₂","Fluoro-graphene","MoS₂","MoSe₂"],"range":["square","circle","square","square","circle","circle","circle","circle","circle","circle","circle","square","square","square","square","square","square"]},"legend":{"title":null,"orient":"bottom","direction":"horizontal","columns":4,"gridAlign":"each","columnPadding":32,"rowPadding":1.5,"symbolSize":80,"offset":15,"labelOffset":2,"symbolStrokeWidth":1}}}},
    {"data":{"name":"dl_txt"},"mark":{"type":"text","align":"left","baseline":"middle","fontSize":12.5},"encoding":{"text":{"field":"label"}}}
   ]},
  {"width":207,"height":238,
   "encoding":{
    "x":{"field":"mx","type":"quantitative","scale":{"type":"log","domain":[0.05,1],"nice":false},"axis":{"values":[0.05,0.1,0.2,0.4,0.8],"format":"~g","title":null}},
    "y":{"field":"mz","type":"quantitative","scale":{"type":"log","domain":[0.05,2.92],"nice":false},"axis":{"values":[0.05,0.1,0.2,0.4,0.8,1.6],"labels":false,"title":null,"domain":false,"grid":true,"gridOpacity":{"condition":{"test":"datum.value < 0.07","value":0},"value":1}}}},
   "layer":[
    {"data":{"values":[{}]},"mark":{"type":"rule","color":"#231f20","strokeWidth":1},"encoding":{"x":{"datum":0.05},"y":{"datum":0.05},"y2":{"datum":2.05}}},
    {"data":{"name":"d_diag"},"mark":{"type":"line","color":"#3a6dbf","strokeWidth":1.5,"strokeDash":[4,3]}},
    {"data":{"name":"dr_red"},"mark":{"type":"rule","color":"#e8262b","strokeWidth":1.5},"encoding":{"y":{"datum":0.052},"y2":{"datum":1.65}}},
    {"data":{"name":"dr_br"},"mark":{"type":"line","color":"#9a9a9a","strokeWidth":1.2},"encoding":{"order":{"field":"o"}}},
    {"data":{"name":"dr_arr"},"mark":{"type":"line","color":"#231f20","strokeWidth":1},"encoding":{"detail":{"field":"id"},"order":{"field":"o"}}},
    {"data":{"name":"dr_hl"},"mark":{"type":"point","shape":"triangle-left","filled":true,"size":30,"color":"#231f20","opacity":1}},
    {"data":{"name":"dr_hr"},"mark":{"type":"point","shape":"triangle-right","filled":true,"size":30,"color":"#231f20","opacity":1}},
    {"data":{"name":"d_pts"},"mark":{"type":"point","filled":true,"opacity":1,"size":140,"strokeWidth":1},
     "encoding":{
      "fill":{"field":"m","type":"nominal","scale":{"domain":["SWNT","III–V","Graphane","MoTe₂","Ge","Silicane","SnSe₂","Black phosphorus","SnS₂","Si","ReS₂","Tellurene","WS₂","WSe₂","Fluoro-graphene","MoS₂","MoSe₂"],"range":["#e8262b","#dcdcdc","#3a6dbf","#fbb91c","#ee2b7b","#2bb5e8","#6a3d9a","#e8262b","#1a1a1a","#fbb91c","#1766ad","#b23a9e","#1766ad","#f07b30","#c8c8c8","#5d3b9b","#2bb5e8"]},"legend":{"title":null,"orient":"bottom","direction":"horizontal","columns":4,"gridAlign":"each","columnPadding":32,"rowPadding":1.5,"symbolSize":80,"offset":15,"labelOffset":2,"symbolStrokeWidth":1}},
      "stroke":{"field":"m","type":"nominal","scale":{"domain":["SWNT","III–V","Graphane","MoTe₂","Ge","Silicane","SnSe₂","Black phosphorus","SnS₂","Si","ReS₂","Tellurene","WS₂","WSe₂","Fluoro-graphene","MoS₂","MoSe₂"],"range":["#333333","#8a8a8a","#333333","#333333","#ee2b7b","#2bb5e8","#6a3d9a","#e8262b","#1a1a1a","#fbb91c","#1766ad","#333333","#333333","#333333","#333333","#333333","#333333"]},"legend":{"title":null,"orient":"bottom","direction":"horizontal","columns":4,"gridAlign":"each","columnPadding":32,"rowPadding":1.5,"symbolSize":80,"offset":15,"labelOffset":2,"symbolStrokeWidth":1}},
      "shape":{"field":"m","type":"nominal","scale":{"domain":["SWNT","III–V","Graphane","MoTe₂","Ge","Silicane","SnSe₂","Black phosphorus","SnS₂","Si","ReS₂","Tellurene","WS₂","WSe₂","Fluoro-graphene","MoS₂","MoSe₂"],"range":["square","circle","square","square","circle","circle","circle","circle","circle","circle","circle","square","square","square","square","square","square"]},"legend":{"title":null,"orient":"bottom","direction":"horizontal","columns":4,"gridAlign":"each","columnPadding":32,"rowPadding":1.5,"symbolSize":80,"offset":15,"labelOffset":2,"symbolStrokeWidth":1}}}},
    {"data":{"name":"dr_txt"},"mark":{"type":"text","align":"left","baseline":"middle","fontSize":12.5},"encoding":{"text":{"field":"label"}}}
   ]}
  ],
  "spacing":29,
  "bounds":"flush",
  "resolve":{"scale":{"fill":"shared","stroke":"shared","shape":"shared"},"legend":{"fill":"shared","stroke":"shared","shape":"shared"}}}
 ],
 "spacing":38,
 "resolve":{"scale":{"fill":"independent","stroke":"independent","shape":"independent","size":"independent"},"legend":{"fill":"independent","stroke":"independent","shape":"independent","size":"independent"}}}
],
"config":{
 "view":{"stroke":null},
 "font":"Liberation Sans",
 "axis":{"labelFont":"Liberation Sans","titleFont":"Liberation Sans","labelFontSize":13,"titleFontSize":13.5,"titleFontWeight":"normal","labelColor":"#231f20","titleColor":"#231f20","domainColor":"#231f20","tickColor":"#231f20","tickSize":5,"labelPadding":2,"labelFlush":false,"labelOverlap":false,"gridColor":"#7a7a7a","gridDash":[1.5,2.5],"gridWidth":1,"grid":false},
 "legend":{"labelFont":"Liberation Sans","labelFontSize":13.5,"labelColor":"#231f20","padding":0},
 "text":{"font":"Liberation Sans","fontSize":13,"color":"#231f20"},
 "title":{"font":"Liberation Sans","color":"#231f20"}
}
}
